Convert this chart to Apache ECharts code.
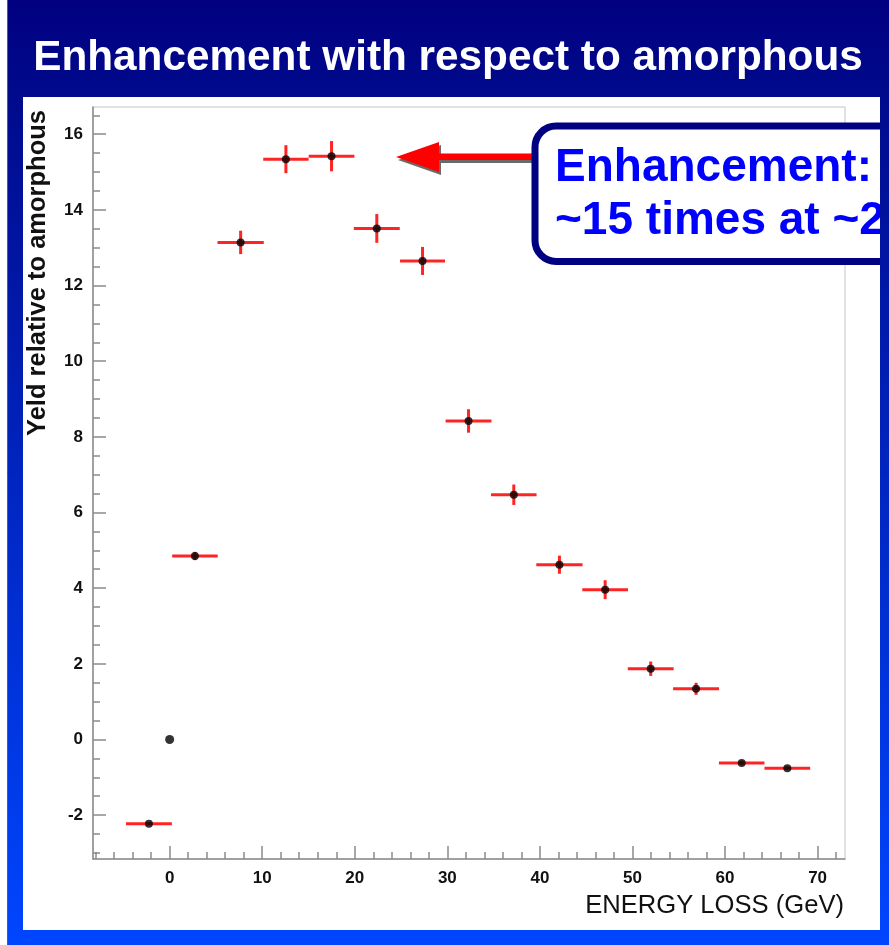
<!DOCTYPE html>
<html>
<head>
<meta charset="utf-8">
<style>
  html, body { margin: 0; padding: 0; background: #ffffff; }
  #chart { width: 889px; height: 945px; }
</style>
<script src="https://cdn.jsdelivr.net/npm/echarts@6/dist/echarts.min.js"></script>
</head>
<body>
<div id="chart"></div>
<script>
// ---- data ----
const xCenter = [-2.24, 2.73, 7.67, 12.56, 17.49, 22.38, 27.32, 32.29, 37.18, 42.11, 47.05, 51.97, 56.87, 61.80, 66.73];
const xHalf   = [2.48, 2.46, 2.50, 2.45, 2.47, 2.48, 2.43, 2.48, 2.46, 2.50, 2.47, 2.48, 2.48, 2.46, 2.47];
const yValue  = [-2.23, 4.85, 13.14, 15.34, 15.42, 13.51, 12.65, 8.42, 6.47, 4.62, 3.96, 1.87, 1.34, -0.62, -0.76];
const yErr    = [0.04, 0.11, 0.31, 0.37, 0.40, 0.38, 0.37, 0.31, 0.27, 0.24, 0.25, 0.19, 0.16, 0.06, 0.05];
const zeroPoint = [[0, 0]];

const xMajorTicks = [0, 10, 20, 30, 40, 50, 60, 70];
const xMinorTicks = [-8, -6, -4, -2, 2, 4, 6, 8, 12, 14, 16, 18, 22, 24, 26, 28, 32, 34, 36, 38,
                     42, 44, 46, 48, 52, 54, 56, 58, 62, 64, 66, 68, 72];
const yMajorTicks = [-2, 0, 2, 4, 6, 8, 10, 12, 14, 16];
const yMinorTicks = [-3, -2.5, -1.5, -1, -0.5, 0.5, 1, 1.5, 2.5, 3, 3.5, 4.5, 5, 5.5, 6.5, 7, 7.5,
                     8.5, 9, 9.5, 10.5, 11, 11.5, 12.5, 13, 13.5, 14.5, 15, 15.5, 16.5];
const xRange = [-8.28, 72.96];
const yRange = [-3.16, 16.72];

const titleText = 'Enhancement with respect to amorphous';
const xTitle = 'ENERGY LOSS (GeV)';
const yTitle = 'Yeld relative to amorphous';
const noteLines = ['Enhancement:', '~15 times at ~2'];

// ---- chart ----
const FONT = '"Liberation Sans", Arial, Helvetica, sans-serif';
const axisGrey = '#8a8a8a';
const bgGradient = () => new echarts.graphic.LinearGradient(0, 0, 0, 1, [
  { offset: 0, color: '#000080' },
  { offset: 0.1, color: '#000a8c' },
  { offset: 1, color: '#0046ff' }
]);

const chart = echarts.init(document.getElementById('chart'), null, { renderer: 'canvas' });

const labelStyle = (ticks, margin) => ({
  show: true, customValues: ticks, fontSize: 17, fontWeight: 'bold',
  color: '#111', fontFamily: FONT, margin: margin
});

function valueAxis(range, ticks, len, showLine, extra) {
  return Object.assign({
    type: 'value',
    min: range[0],
    max: range[1],
    axisLine: { show: showLine, onZero: false, lineStyle: { color: axisGrey, width: 1.5 } },
    axisTick: { show: true, inside: true, length: len, customValues: ticks,
                lineStyle: { color: axisGrey, width: 1.5 } },
    axisLabel: { show: false },
    splitLine: { show: false },
    minorTick: { show: false }
  }, extra || {});
}

const option = {
  animation: false,
  backgroundColor: 'transparent',
  grid: {
    left: 93, top: 107, width: 752, height: 752,
    show: true, borderColor: '#c4c4c4', borderWidth: 1, backgroundColor: 'transparent'
  },
  xAxis: [
    valueAxis(xRange, xMajorTicks, 13, true, { position: 'bottom', axisLabel: labelStyle(xMajorTicks, 11) }),
    valueAxis(xRange, xMinorTicks, 7, false, { position: 'bottom' })
  ],
  yAxis: [
    valueAxis(yRange, yMajorTicks, 13, true, { position: 'left', axisLabel: labelStyle(yMajorTicks, 10) }),
    valueAxis(yRange, yMinorTicks, 7, false, { position: 'left' })
  ],
  series: [
    {
      type: 'custom',
      xAxisIndex: 0, yAxisIndex: 0,
      z: 3,
      data: xCenter.map((x, i) => [x, yValue[i], xHalf[i], yErr[i]]),
      encode: { x: 0, y: 1 },
      renderItem: function (params, api) {
        const x = api.value(0), y = api.value(1), dx = api.value(2), dy = api.value(3);
        const l = api.coord([x - dx, y]), r = api.coord([x + dx, y]);
        const t = api.coord([x, y + dy]), b = api.coord([x, y - dy]);
        const st = { stroke: '#ff2424', lineWidth: 3 };
        return {
          type: 'group',
          children: [
            { type: 'line', shape: { x1: l[0], y1: l[1], x2: r[0], y2: r[1] }, style: st },
            { type: 'line', shape: { x1: t[0], y1: t[1], x2: b[0], y2: b[1] }, style: st }
          ]
        };
      }
    },
    {
      type: 'scatter',
      xAxisIndex: 0, yAxisIndex: 0,
      z: 4,
      symbol: 'circle',
      symbolSize: 8,
      itemStyle: { color: '#000' },
      data: xCenter.map((x, i) => [x, yValue[i]])
    },
    {
      type: 'scatter',
      xAxisIndex: 0, yAxisIndex: 0,
      z: 4,
      symbol: 'circle',
      symbolSize: 9,
      itemStyle: { color: '#000' },
      data: zeroPoint
    }
  ],
  graphic: [
    // slide background
    { type: 'rect', z: -20, silent: true, shape: { x: 7, y: 0, width: 882, height: 945 },
      style: { fill: bgGradient() } },
    { type: 'line', z: -19, silent: true, shape: { x1: 7.5, y1: 0, x2: 7.5, y2: 945 },
      style: { stroke: '#5a5a6a', lineWidth: 1 } },
    // white panel
    { type: 'rect', z: -18, silent: true, shape: { x: 23, y: 97, width: 857, height: 833 },
      style: { fill: '#ffffff' } },
    // title
    { type: 'text', z: 10, x: 448, y: 58,
      style: { text: titleText, fill: '#ffffff', fontSize: 42.3, fontWeight: 'bold',
               fontFamily: FONT, align: 'center', verticalAlign: 'middle' } },
    // axis titles
    { type: 'text', z: 10, x: 38, y: 110, rotation: Math.PI / 2,
      style: { text: yTitle, fill: '#111', fontSize: 25.5, fontWeight: 'bold',
               fontFamily: FONT, align: 'right', verticalAlign: 'middle' } },
    { type: 'text', z: 10, x: 844, y: 906,
      style: { text: xTitle, fill: '#111', fontSize: 25.6, fontWeight: 'normal',
               fontFamily: FONT, align: 'right', verticalAlign: 'middle' } },
    // arrow shadow
    { type: 'polygon', z: 20, silent: true,
      shape: { points: [[398, 160], [441, 145], [441, 157], [537, 157], [537, 163], [441, 163], [441, 175]] },
      style: { fill: '#6a6a6a' } },
    // arrow
    { type: 'polygon', z: 21, silent: true,
      shape: { points: [[396, 157], [439, 142], [439, 153.5], [537, 153.5], [537, 160], [439, 160], [439, 172]] },
      style: { fill: '#ff0000' } },
    // annotation box
    { type: 'rect', z: 22, silent: true,
      shape: { x: 535, y: 126, width: 420, height: 135.5, r: 21 },
      style: { fill: '#ffffff', stroke: '#000080', lineWidth: 7 } },
    { type: 'text', z: 23, x: 555, y: 168,
      style: { text: noteLines[0], fill: '#0000ff', fontSize: 46, fontWeight: 'bold',
               fontFamily: FONT, align: 'left', verticalAlign: 'middle' } },
    { type: 'text', z: 23, x: 555, y: 221,
      style: { text: noteLines[1], fill: '#0000ff', fontSize: 46, fontWeight: 'bold',
               fontFamily: FONT, align: 'left', verticalAlign: 'middle' } },
    // right slide strip (covers the box edge)
    { type: 'rect', z: 30, silent: true, shape: { x: 880, y: 0, width: 9, height: 945 },
      style: { fill: bgGradient() } }
  ]
};

chart.setOption(option);
</script>
</body>
</html>
